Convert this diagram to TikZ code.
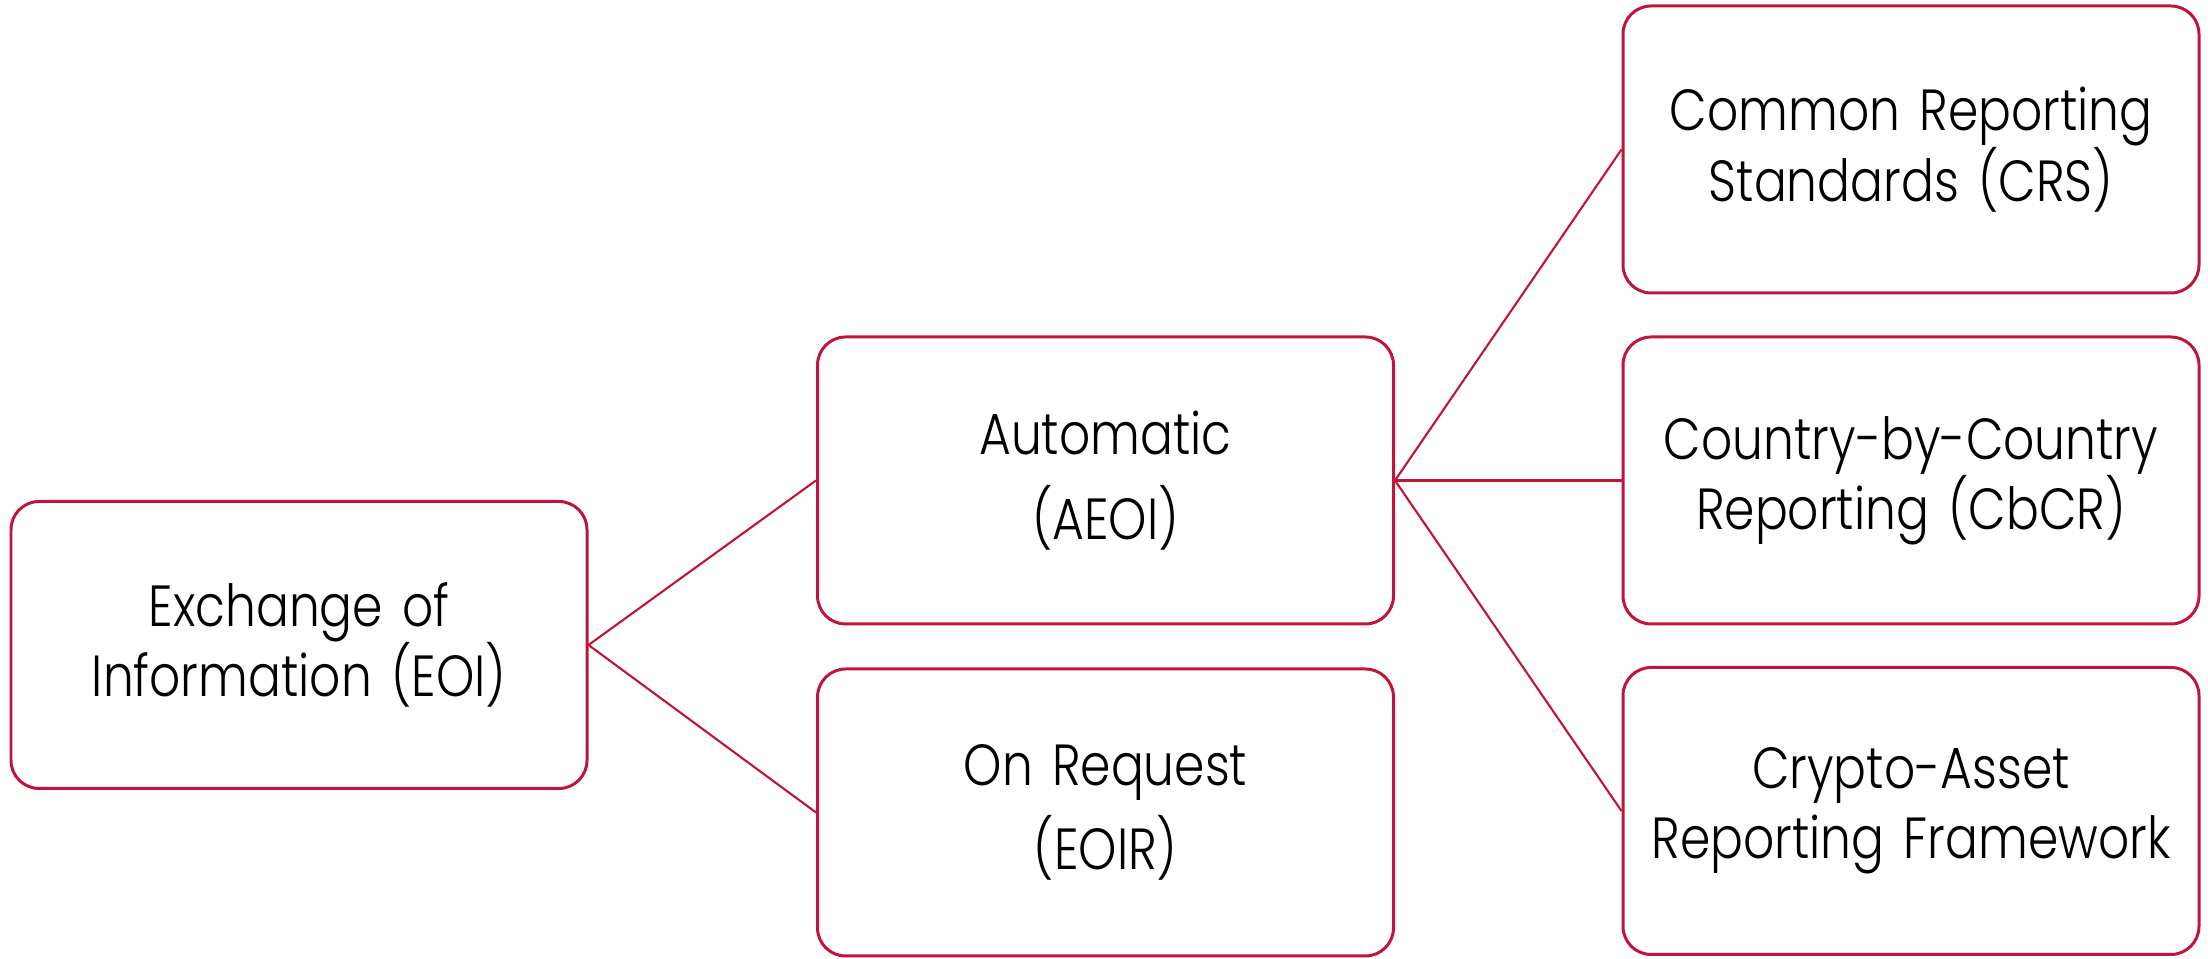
\documentclass[tikz,border=0pt]{standalone}
\usepackage{fontspec}
\setmainfont{Poppins}[UprightFont=* Light, FakeStretch=0.84]
\usepackage{tikz}
\usetikzlibrary{positioning}
\usepackage{xcolor}
\definecolor{crimson}{HTML}{C01538}

\begin{document}
\begin{tikzpicture}[
  box/.style={rectangle, rounded corners=8pt, draw=crimson, line width=0.85pt,
    minimum width=5.76cm, minimum height=2.87cm, text width=5.4cm, align=center,
    font=\fontsize{16.5}{20}\selectfont, inner sep=4pt},
  link/.style={draw=crimson, line width=0.6pt},
]
  \useasboundingbox (0,0) rectangle (22.08,9.59);
  \node[box] (eoi) at (2.99,3.14) {Exchange of\\Information (EOI)};
  \node[box] (aeoi) at (11.055,4.785) {Automatic\\[4pt](AEOI)};
  \node[box] (eoir) at (11.055,1.465) {On Request\\[4pt](EOIR)};
  \node[box] (crs) at (19.11,8.095) {Common Reporting\\Standards (CRS)};
  \node[box] (cbcr) at (19.11,4.785) {Country-by-Country\\Reporting (CbCR)};
  \node[box] (carf) at (19.11,1.48) {Crypto-Asset\\Reporting Framework};
  \draw[link] (eoi.east) -- (aeoi.west);
  \draw[link] (eoi.east) -- (eoir.west);
  \draw[link] (aeoi.east) -- (crs.west);
  \draw[link] (aeoi.east) -- (cbcr.west);
  \draw[link] (aeoi.east) -- (carf.west);
\end{tikzpicture}
\end{document}
